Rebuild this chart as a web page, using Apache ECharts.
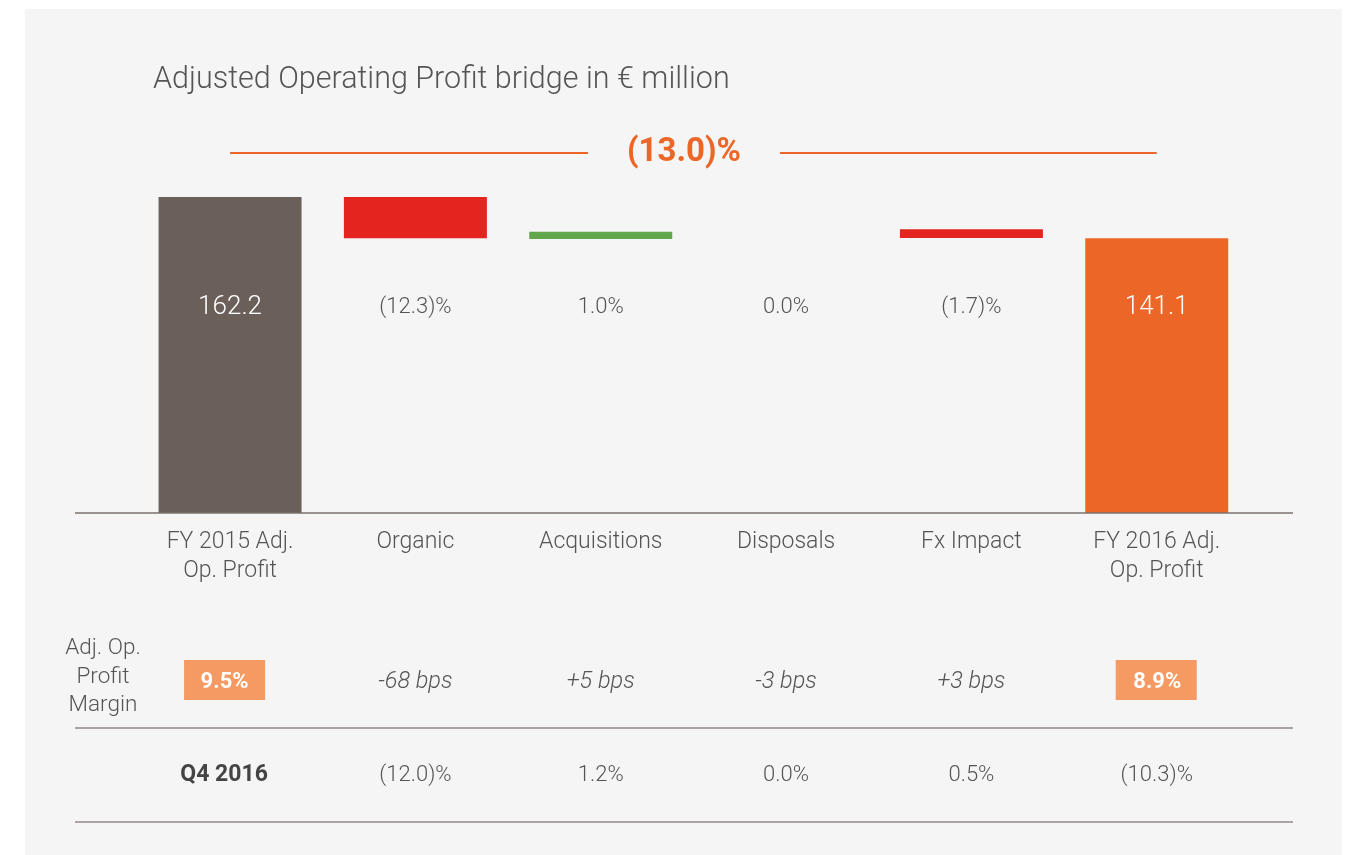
<!DOCTYPE html>
<html><head><meta charset="utf-8">
<script src="https://cdn.jsdelivr.net/npm/echarts@6/dist/echarts.min.js"></script>
<style>html,body{margin:0;background:#fff}#c{width:1351px;height:855px}</style>
</head><body><div id="c"></div>
<script>
const categories = ['FY 2015 Adj.\nOp. Profit', 'Organic', 'Acquisitions', 'Disposals', 'Fx Impact', 'FY 2016 Adj.\nOp. Profit'];
const barLow = [0, 141.1, 140.7, null, 141.2, 0];
const barHigh = [162.2, 162.2, 144.4, null, 145.7, 141.1];
const barLabels = ['162.2', '(12.3)%', '1.0%', '0.0%', '(1.7)%', '141.1'];
const marginLabels = ['9.5%', '-68 bps', '+5 bps', '-3 bps', '+3 bps', '8.9%'];
const q4Labels = ['Q4 2016', '(12.0)%', '1.2%', '0.0%', '0.5%', '(10.3)%'];
const totalChange = '(13.0)%';
const titleText = 'Adjusted Operating Profit bridge in € million';
const marginRowTitle = 'Adj. Op.\nProfit\nMargin';

const F = 'Roboto, "Open Sans", sans-serif';
const barColors = ['#6b5f5a', '#e3241f', '#62a64b', '#e3241f', '#e3241f', '#ec6727'];
const GRAY = '#555555';

const chart = echarts.init(document.getElementById('c'));
chart.setOption({
  backgroundColor: '#ffffff',
  animation: false,
  grid: {left: 137.4, right: 101.6, top: 123.4, bottom: 342},
  xAxis: {
    type: 'category', data: categories,
    axisLine: {show: false}, axisTick: {show: false},
    axisLabel: {color: GRAY, fontSize: 23, lineHeight: 29, margin: 15, fontFamily: F, fontWeight: 300, interval: 0}
  },
  yAxis: {type: 'value', min: 0, max: 200, show: false},
  series: [
    {type: 'bar', stack: 'w', barWidth: 143, silent: true, itemStyle: {color: 'transparent'}, data: barLow.slice()},
    {type: 'bar', stack: 'w', barWidth: 143,
     data: barHigh.map((h, i) => h == null ? null : {value: +(h - barLow[i]).toFixed(2), itemStyle: {color: barColors[i]}})}
  ]
});

const xs = categories.map((c, i) => chart.convertToPixel({xAxisIndex: 0}, i));
const y0 = chart.convertToPixel({yAxisIndex: 0}, 0);
const lineL = 75, lineR = 1293;
const g = [];
g.push({type: 'rect', z: -10, shape: {x: 25, y: 9, width: 1317, height: 846}, style: {fill: '#f5f5f5'}});
g.push({type: 'text', z: 10, x: 153, y: 80, style: {text: titleText, fontSize: 30.5, fontFamily: F, fontWeight: 300, fill: GRAY, verticalAlign: 'middle'}});
// total change line
const cMid = 684;
g.push({type: 'line', z: 10, shape: {x1: xs[0], y1: 153, x2: cMid - 96, y2: 153}, style: {stroke: '#ec6727', lineWidth: 2}});
g.push({type: 'line', z: 10, shape: {x1: cMid + 96, y1: 153, x2: xs[5], y2: 153}, style: {stroke: '#ec6727', lineWidth: 2}});
g.push({type: 'text', z: 10, x: cMid, y: 153, style: {text: totalChange, fontSize: 33, fontWeight: 'bold', fontFamily: F, fill: '#ec6727', align: 'center', verticalAlign: 'middle'}});
// axis and row lines
g.push({type: 'line', z: 10, shape: {x1: lineL, y1: y0, x2: lineR, y2: y0}, style: {stroke: '#7a706c', lineWidth: 1.5}});
g.push({type: 'line', z: 10, shape: {x1: lineL, y1: 728, x2: lineR, y2: 728}, style: {stroke: '#aaa3a1', lineWidth: 2}});
g.push({type: 'line', z: 10, shape: {x1: lineL, y1: 822, x2: lineR, y2: 822}, style: {stroke: '#aaa3a1', lineWidth: 2}});
// bar labels
xs.forEach((x, i) => {
  const inside = (i === 0 || i === 5);
  g.push({type: 'text', z: 10, x: x, y: 307, style: {text: barLabels[i], fontSize: inside ? 26 : 22, fontFamily: F, fontWeight: 300, fill: inside ? '#ffffff' : GRAY, align: 'center', verticalAlign: 'middle'}});
  // margin row
  if (i === 0 || i === 5) {
    g.push({type: 'rect', z: 10, shape: {x: x - (i === 0 ? 46 : 41), y: 660, width: 81, height: 40}, style: {fill: '#f49a62'}});
    g.push({type: 'text', z: 11, x: x - (i === 0 ? 5.5 : -0.5), y: 682, style: {text: marginLabels[i], fontSize: 22, fontWeight: 'bold', fontFamily: F, fill: '#ffffff', align: 'center', verticalAlign: 'middle'}});
  } else {
    g.push({type: 'text', z: 10, x: x, y: 682, style: {text: marginLabels[i], fontSize: 23.5, fontStyle: 'italic', fontWeight: 300, fontFamily: F, fill: GRAY, align: 'center', verticalAlign: 'middle'}});
  }
  // Q4 row
  g.push({type: 'text', z: 10, x: i === 0 ? x - 6 : x, y: 775, style: {text: q4Labels[i], fontSize: i === 0 ? 23 : 22, fontWeight: i === 0 ? 'bold' : 300, fontFamily: F, fill: i === 0 ? '#444444' : GRAY, align: 'center', verticalAlign: 'middle'}});
});
g.push({type: 'text', z: 10, x: 103, y: 677, style: {text: marginRowTitle, fontSize: 22.5, lineHeight: 28.5, fontFamily: F, fontWeight: 300, fill: GRAY, align: 'center', verticalAlign: 'middle'}});
chart.setOption({graphic: {elements: g}});
</script>
</body></html>
